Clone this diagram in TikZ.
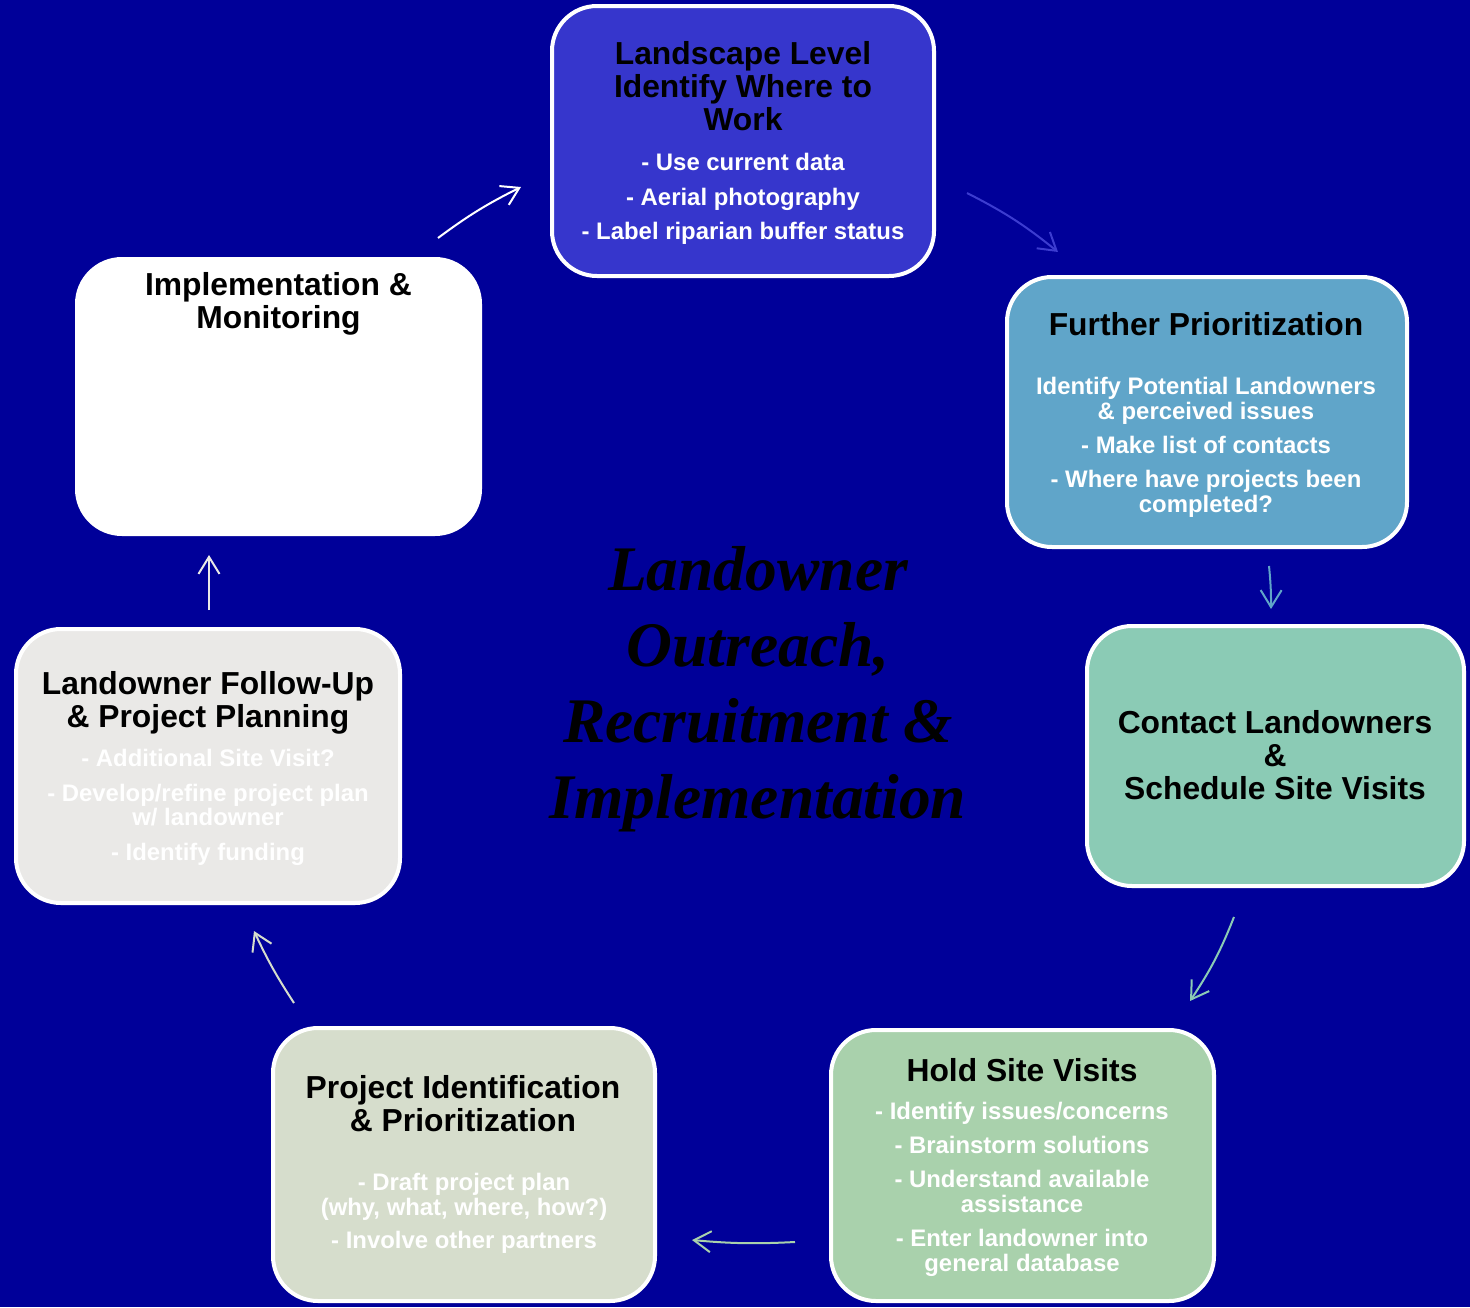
\documentclass[tikz,border=0pt]{standalone}
\usepackage{fontspec}
\setmainfont{Liberation Sans}
\newfontfamily\titlefont{Liberation Serif}
\usetikzlibrary{arrows.meta}
\definecolor{bg}{HTML}{000099}
\definecolor{c1}{HTML}{3636CC}
\definecolor{c2}{HTML}{60A5C9}
\definecolor{c3}{HTML}{8BCBB5}
\definecolor{c4}{HTML}{A9D1AC}
\definecolor{c5}{HTML}{D6DDCC}
\definecolor{c6}{HTML}{EAE9E7}
\definecolor{a2col}{HTML}{3C3CD0}
\tikzset{
  box/.style={draw=white, line width=4pt, rounded corners=45pt, inner sep=0pt},
  hdr/.style={anchor=north, inner sep=0pt, align=center, text=black,
    font=\fontsize{31.8}{33}\selectfont\bfseries},
  blt/.style={anchor=north, inner sep=0pt, align=center, text=white,
    font=\fontsize{23.9}{24.8}\selectfont\bfseries},
  flow/.style={line width=2pt, -{Straight Barb[length=17pt,width=21pt]}},
}
\newcommand{\hs}{\rule{0pt}{25pt}}
\newcommand{\bs}{\rule{0pt}{19pt}}
\begin{document}
\begin{tikzpicture}[x=1pt,y=-1pt]
\useasboundingbox (0,0) rectangle (1470,1307);
\fill[bg] (0,0) rectangle (1470,1307);

% boxes
\node[box, fill=c1, minimum width=382pt, minimum height=270pt] (b1) at (743,141) {};
\node[box, fill=c2, minimum width=400pt, minimum height=270pt] (b2) at (1207,412) {};
\node[box, fill=c3, minimum width=377pt, minimum height=260pt] (b3) at (1275.5,756) {};
\node[box, fill=c4, minimum width=383pt, minimum height=271pt] (b4) at (1022.5,1165.5) {};
\node[box, fill=c5, minimum width=382pt, minimum height=273pt] (b5) at (464,1164.5) {};
\node[box, fill=c6, minimum width=384pt, minimum height=274pt] (b6) at (208,766) {};
\node[box, fill=white, minimum width=403pt, minimum height=275pt] (b7) at (278.5,396.5) {};

% texts
\node[hdr] (b1h) at (743,39) {\hs Landscape Level\\Identify Where to\\Work};
\node[blt] (b1l) at (743,151) {\bs- Use current data\\[10pt]- Aerial photography\\[10pt]- Label riparian buffer status};

\node[hdr] (b2h) at (1206,310) {\hs Further Prioritization};
\node[blt] (b2l) at (1206,375) {\bs Identify Potential Landowners\\\& perceived issues\\[9.5pt]- Make list of contacts\\[9.5pt]- Where have projects been\\completed?};

\node[hdr] (b3h) at (1275,708) {\hs Contact Landowners\\\&\\Schedule Site Visits};

\node[hdr] (b4h) at (1022,1056) {\hs Hold Site Visits};
\node[blt] (b4l) at (1022,1100) {\bs- Identify issues/concerns\\[9.5pt]- Brainstorm solutions\\[9.5pt]- Understand available\\assistance\\[9.5pt]- Enter landowner into\\general database};

\node[hdr] (b5h) at (463,1073) {\hs Project Identification\\\& Prioritization};
\node[blt] (b5l) at (464,1171) {\bs- Draft project plan\\(why, what, where, how?)\\[9pt]- Involve other partners};

\node[hdr] (b6h) at (208,669) {\hs Landowner Follow-Up\\\& Project Planning};
\node[blt] (b6l) at (208,747) {\bs- Additional Site Visit?\\[10pt]- Develop/refine project plan\\w/ landowner\\[10pt]- Identify funding};

\node[hdr] (b7h) at (278.5,270) {\hs Implementation \&\\Monitoring};

% centre title
\node[anchor=north, inner sep=0pt, align=center, text=black,
  font=\titlefont\bfseries\itshape\fontsize{63.5}{76}\selectfont] (title) at (758,542)
  {\rule{0pt}{48pt}Landowner\\Outreach,\\Recruitment \&\\Implementation};

% arrows
\coordinate (a1s) at (438,238); \coordinate (a1e) at (521,187);
\coordinate (a2s) at (967,193); \coordinate (a2e) at (1058,252);
\coordinate (a3s) at (1269,566); \coordinate (a3e) at (1271,609);
\coordinate (a4s) at (1234,917); \coordinate (a4e) at (1190,1001);
\coordinate (a5s) at (795,1242); \coordinate (a5e) at (692,1240);
\coordinate (a6s) at (294,1003); \coordinate (a6e) at (254,931);
\coordinate (a7s) at (209,610); \coordinate (a7e) at (209,555);
\draw[flow, white] (a1s) to[bend left=5] (a1e);
\draw[flow, a2col] (a2s) to[bend left=6] (a2e);
\draw[flow, c2] (a3s) to[bend left=3] (a3e);
\draw[flow, c3] (a4s) to[bend left=6] (a4e);
\draw[flow, c4] (a5s) to[bend left=4] (a5e);
\draw[flow, c5] (a6s) to[bend left=4] (a6e);
\draw[flow, c6] (a7s) to (a7e);
\end{tikzpicture}
\end{document}
